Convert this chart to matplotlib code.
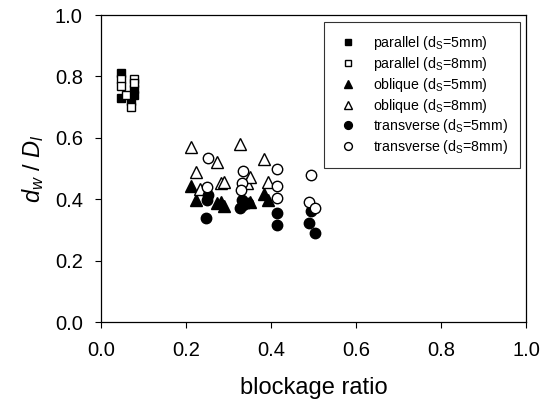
import numpy as np
import matplotlib
matplotlib.use("Agg")
import matplotlib.pyplot as plt

plt.rcParams["font.family"] = ["Liberation Sans", "DejaVu Sans"]
plt.rcParams["mathtext.fontset"] = "custom"
plt.rcParams["mathtext.rm"] = "Liberation Sans"
plt.rcParams["mathtext.it"] = "Liberation Sans:italic"

# ---- data ----
par5_x = [0.047, 0.047, 0.070, 0.078, 0.078]
par5_y = [0.81, 0.73, 0.72, 0.74, 0.76]
par8_x = [0.047, 0.047, 0.078, 0.078, 0.070, 0.060]
par8_y = [0.79, 0.77, 0.79, 0.78, 0.70, 0.74]

obl5_x = [0.213, 0.224, 0.272, 0.282, 0.290, 0.351, 0.384, 0.394]
obl5_y = [0.443, 0.397, 0.386, 0.392, 0.378, 0.392, 0.417, 0.397]
obl8_x = [0.213, 0.224, 0.233, 0.272, 0.282, 0.290, 0.327, 0.343, 0.351, 0.384, 0.394]
obl8_y = [0.571, 0.490, 0.432, 0.522, 0.452, 0.457, 0.580, 0.452, 0.473, 0.531, 0.457]

tr5_x = [0.249, 0.252, 0.247, 0.327, 0.331, 0.335, 0.347, 0.413, 0.415, 0.493, 0.489, 0.504]
tr5_y = [0.397, 0.414, 0.338, 0.370, 0.397, 0.381, 0.386, 0.354, 0.315, 0.362, 0.321, 0.289]
tr8_x = [0.252, 0.249, 0.335, 0.331, 0.329, 0.415, 0.415, 0.413, 0.493, 0.489, 0.504]
tr8_y = [0.533, 0.441, 0.493, 0.452, 0.430, 0.498, 0.443, 0.403, 0.479, 0.392, 0.372]

ticks = [0.0, 0.2, 0.4, 0.6, 0.8, 1.0]

# ---- plot ----
fig = plt.figure(figsize=(5.51, 4.0), dpi=100)
ax = fig.add_axes([0.183, 0.195, 0.772, 0.7675])

ax.plot(par5_x, par5_y, "s", ms=6, mfc="black", mec="black", label=r"parallel (d$_\mathrm{S}$=5mm)")
ax.plot(par8_x, par8_y, "s", ms=6, mfc="white", mec="black", mew=1, label=r"parallel (d$_\mathrm{S}$=8mm)")
ax.plot(obl5_x, obl5_y, "^", ms=8, mfc="black", mec="black", label=r"oblique (d$_\mathrm{S}$=5mm)")
ax.plot(obl8_x, obl8_y, "^", ms=8, mfc="white", mec="black", mew=1, label=r"oblique (d$_\mathrm{S}$=8mm)")
ax.plot(tr5_x, tr5_y, "o", ms=7.5, mfc="black", mec="black", label=r"transverse (d$_\mathrm{S}$=5mm)")
ax.plot(tr8_x, tr8_y, "o", ms=7.5, mfc="white", mec="black", mew=1, label=r"transverse (d$_\mathrm{S}$=8mm)")

ax.set_xlim(0, 1)
ax.set_ylim(0, 1)
ax.set_xticks(ticks)
ax.set_yticks(ticks)
ax.set_xticklabels([f"{t:.1f}" for t in ticks])
ax.set_yticklabels([f"{t:.1f}" for t in ticks])
ax.tick_params(direction="out", length=4, width=0.8, labelsize=14.5)
ax.tick_params(axis="x", pad=10)
ax.tick_params(axis="y", pad=9)
for s in ax.spines.values():
    s.set_linewidth(0.9)

ax.set_xlabel("blockage ratio", fontsize=17, labelpad=12)
ax.set_ylabel(r"$d_w$ / $D_l$", fontsize=17, labelpad=6)

leg = ax.legend(loc="upper right", bbox_to_anchor=(0.986, 0.977), fontsize=10.2,
                frameon=True, fancybox=False, edgecolor="black", markerscale=0.75,
                handlelength=1.7, handletextpad=0.9, labelspacing=0.2, borderpad=0.85,
                borderaxespad=0)
leg.get_frame().set_linewidth(0.8)

plt.savefig("out.png", dpi=100)
